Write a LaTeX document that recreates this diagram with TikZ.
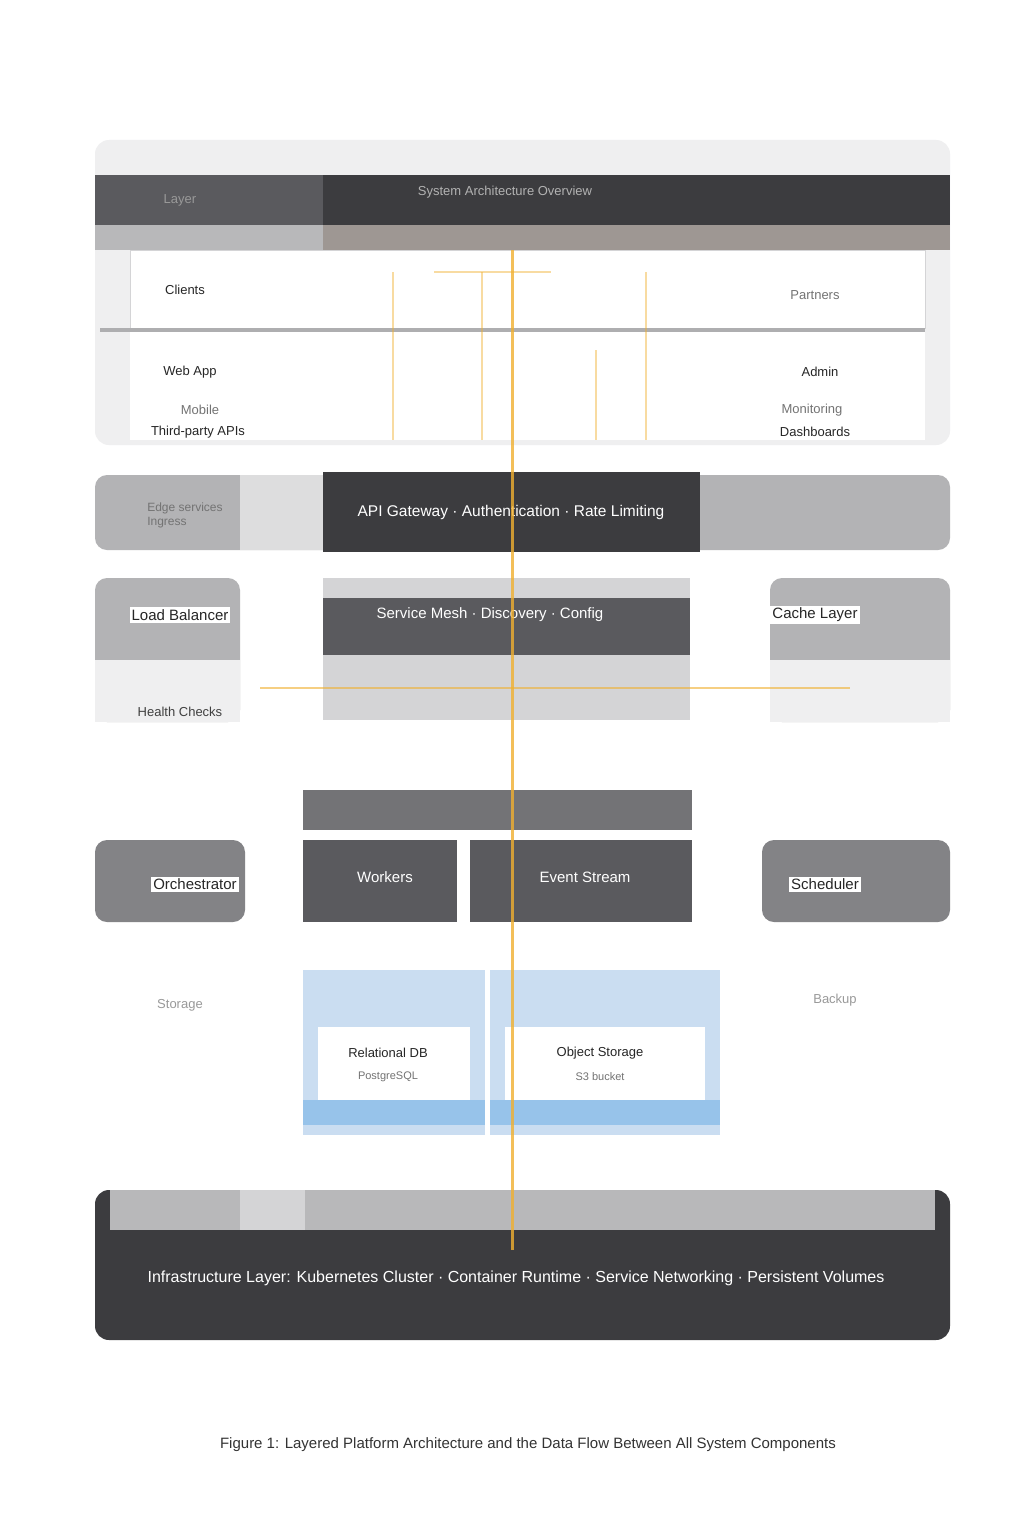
% NOTE: the text in the reference image is too blurred to read. Every label
% below is a placeholder of about the same length and position, not a
% transcription of the original wording.
\documentclass[tikz,border=0pt]{standalone}
\usepackage{fontspec}
\setmainfont{Liberation Sans}
\definecolor{dark}{HTML}{3C3C3F}
\definecolor{midg}{HTML}{5A5A5E}
\definecolor{grayb}{HTML}{9A9A9C}
\definecolor{lightg}{HTML}{D4D4D6}
\definecolor{paleg}{HTML}{EFEFF0}
\definecolor{flow}{HTML}{F0B030}
\definecolor{lblue}{HTML}{CADDF1}
\definecolor{mblue}{HTML}{97C3EA}
\begin{document}
\begin{tikzpicture}[x=1pt,y=-1pt,
  blk/.style={rectangle,inner sep=0pt,anchor=north west},
  wtxt/.style={text=white,font=\fontsize{15}{17}\selectfont},
  dtxt/.style={text=black!85,font=\fontsize{15}{17}\selectfont},
  gtxt/.style={text=black!55,font=\fontsize{13}{15}\selectfont},
  flowline/.style={draw=flow,line width=3pt,opacity=0.8},
  flowthin/.style={draw=flow,line width=2pt,opacity=0.45}]
\useasboundingbox (0,0) rectangle (1024,1536);
\fill[white] (0,0) rectangle (1024,1536);

% ---------- top section ----------
\fill[paleg,rounded corners=14] (95,140) rectangle (950,445);
\node[blk,fill=midg,minimum width=228,minimum height=50] (hdrL) at (95,175) {};
\node[blk,fill=dark,minimum width=627,minimum height=50] (hdrR) at (323,175) {};
\node[text=black!40!white,font=\fontsize{13}{15}\selectfont] (hdrLt) at (180,200) {Layer};
\node[text=black!30!white,font=\fontsize{13}{15}\selectfont] (hdrRt) at (505,192) {System Architecture Overview};
\node[blk,fill=grayb!70,minimum width=228,minimum height=25] (subL) at (95,225) {};
\node[blk,fill=grayb!90!brown,minimum width=627,minimum height=25] (subR) at (323,225) {};
\node[blk,fill=white,minimum width=795,minimum height=190] (tbl) at (130,250) {};
\draw[lightg,line width=1pt] (130,250) rectangle (925,328);
\draw[grayb!80,line width=4pt] (100,330) -- (925,330);

\node[dtxt,font=\fontsize{13}{15}\selectfont] (c1) at (185,290) {Clients};
\node[dtxt,font=\fontsize{13}{15}\selectfont] (c3) at (190,372) {Web App};
\node[gtxt] (c4) at (200,410) {Mobile};
\node[dtxt,font=\fontsize{13}{15}\selectfont] (c5) at (198,432) {Third-party APIs};
\node[gtxt] (r1) at (815,295) {Partners};
\node[dtxt,font=\fontsize{13}{15}\selectfont] (r2) at (820,372) {Admin};
\node[gtxt] (r3) at (812,410) {Monitoring};
\node[dtxt,font=\fontsize{13}{15}\selectfont] (r4) at (815,432) {Dashboards};

% orange connectors in top table
\coordinate (t1) at (393,272);
\coordinate (t2) at (646,272);
\coordinate (b1) at (393,440);
\coordinate (b2) at (482,440);
\coordinate (b4) at (596,440);
\coordinate (b5) at (646,440);
\coordinate (m2) at (482,272);
\coordinate (m4) at (596,350);
\coordinate (hA) at (434,272);
\coordinate (hB) at (551,272);
\draw[flowthin] (hA) -- (hB);
\draw[flowthin] (t1) -- (b1);
\draw[flowthin] (m2) -- (b2);
\draw[flowthin] (m4) -- (b4);
\draw[flowthin] (t2) -- (b5);

% ---------- band 2 ----------
\fill[grayb!75,rounded corners=12] (95,475) rectangle (950,550);
\fill[lightg!80] (240,475) rectangle (323,550);
\node[blk,fill=dark,minimum width=377,minimum height=80] (gw) at (323,472) {};
\node[wtxt,font=\fontsize{15.5}{17}\selectfont] (gwt) at (511,512) {API Gateway · Authentication · Rate Limiting};
\node[gtxt,align=left,font=\fontsize{12}{14}\selectfont] (edge) at (185,515) {Edge services\\Ingress};

% ---------- band 3 ----------
\fill[grayb!75,rounded corners=12] (95,578) rectangle (240,722);
\fill[paleg] (95,660) rectangle (240,722);
\node[fill=white,inner sep=2pt,dtxt] (lb) at (180,615) {Load Balancer};
\node[gtxt,text=black!75] (hc) at (180,712) {Health Checks};
\fill[lightg] (323,578) rectangle (690,720);
\node[blk,fill=midg,minimum width=367,minimum height=57] (mesh) at (323,598) {};
\node[wtxt] (mesht) at (490,615) {Service Mesh · Discovery · Config};
\fill[grayb!75,rounded corners=12] (770,578) rectangle (950,722);
\fill[paleg] (770,660) rectangle (950,722);
\node[fill=white,inner sep=2pt,dtxt] (cache) at (815,615) {Cache Layer};

\coordinate (hL) at (260,688);
\coordinate (hR) at (850,688);
\draw[flowthin,opacity=0.6] (hL) -- (hR);

% ---------- band 4 ----------
\node[blk,fill=midg!85,minimum width=389,minimum height=40] (cmp) at (303,790) {};
\fill[midg!75,rounded corners=12] (95,840) rectangle (245,922);
\node[fill=white,inner sep=2pt,dtxt] (orch) at (195,884) {Orchestrator};
\node[blk,fill=midg,minimum width=154,minimum height=82] (wk) at (303,840) {};
\node[wtxt] (wkt) at (385,877) {Workers};
\node[blk,fill=midg,minimum width=222,minimum height=82] (ev) at (470,840) {};
\node[wtxt] (evt) at (585,877) {Event Stream};
\fill[midg!75,rounded corners=12] (762,840) rectangle (950,922);
\node[fill=white,inner sep=2pt,dtxt] (sch) at (825,884) {Scheduler};

% ---------- band 5 ----------
\node[gtxt,text=black!40] (stl) at (180,1005) {Storage};
\node[gtxt,text=black!40] (bkl) at (835,1000) {Backup};
\foreach \xa/\xb in {303/485,490/720}{
  \fill[lblue] (\xa,970) rectangle (\xb,1135);
  \fill[white] (\xa+15,1027) rectangle (\xb-15,1100);
  \fill[mblue] (\xa,1100) rectangle (\xb,1125);
}
\node[dtxt,font=\fontsize{13}{15}\selectfont] (dbt) at (388,1053) {Relational DB};
\node[gtxt,font=\fontsize{11}{13}\selectfont] (dbs) at (388,1077) {PostgreSQL};
\node[dtxt,font=\fontsize{13}{15}\selectfont] (obt) at (600,1053) {Object Storage};
\node[gtxt,font=\fontsize{11}{13}\selectfont] (obs) at (600,1077) {S3 bucket};

% ---------- band 6 ----------
\fill[dark,rounded corners=14] (95,1190) rectangle (950,1340);
\fill[grayb!70] (110,1190) rectangle (935,1230);
\fill[lightg] (240,1190) rectangle (305,1230);
\node[blk,minimum width=855,minimum height=150] (infra) at (95,1190) {};
\node[wtxt,font=\fontsize{16}{18}\selectfont] (infrat) at (516,1278) {Infrastructure Layer: Kubernetes Cluster · Container Runtime · Service Networking · Persistent Volumes};

% main vertical flow
\coordinate (top) at (512,250);
\coordinate (bot) at (512,1250);
\draw[flowline] (top) -- (bot);

% ---------- caption ----------
\node[text=black!80,font=\fontsize{15}{17}\selectfont] (cap) at (528,1445) {Figure 1: Layered Platform Architecture and the Data Flow Between All System Components};
\end{tikzpicture}
\end{document}
